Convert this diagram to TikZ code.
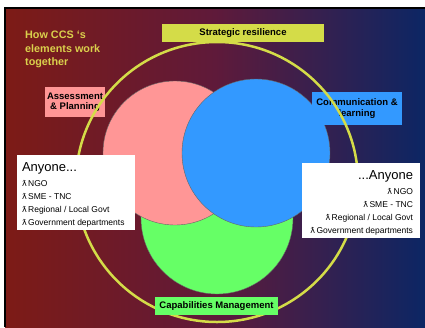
\documentclass[tikz,border=0pt]{standalone}
\usepackage{fontspec}
\setmainfont{Liberation Sans}
\newfontfamily\symfont{DejaVu Sans}
\usetikzlibrary{positioning}

\definecolor{bgred}{RGB}{125,27,22}
\definecolor{bgmid}{RGB}{95,26,58}
\definecolor{bgblue}{RGB}{12,38,100}
\definecolor{asspink}{RGB}{255,150,150}
\definecolor{comblue}{RGB}{51,153,255}
\definecolor{capgreen}{RGB}{102,255,102}
\definecolor{ringyellow}{RGB}{212,220,72}
\definecolor{titleyellow}{RGB}{218,208,76}

\newcommand{\itm}{{\symfont\fontsize{8}{8}\selectfont ƛ}\,}

\begin{document}
\begin{tikzpicture}[x=1pt,y=-1pt,
  disc/.style={circle,draw=black!60,thin,inner sep=0pt},
  tag/.style={font=\bfseries\fontsize{9.5}{10.5}\selectfont,align=center,inner sep=2pt},
  who/.style={fill=white,inner sep=0pt,minimum width=118pt,minimum height=75pt},
  list/.style={font=\fontsize{8.5}{13}\selectfont,inner sep=0pt}]
\useasboundingbox (0,0) rectangle (425,327);
\shade[left color=bgred,right color=bgblue,middle color=bgmid] (5,8) rectangle (425,327);
\draw[line width=1.5pt] (5,327) -- (5,8) -- (425,8);
% the three elements
\node[disc,fill=capgreen,minimum size=152pt] (capc) at (217,218) {};
\node[disc,fill=asspink,minimum size=144pt] (assc) at (175,153) {};
\node[disc,fill=comblue,minimum size=148pt] (comc) at (256,153) {};
\node[tag,fill=asspink,minimum width=60pt,minimum height=30pt] (assess) at (75,102) {Assessment\\\& Planning};
\node[tag,fill=comblue,minimum width=90pt,minimum height=33pt] (comm) at (357,108.5) {Communication \&\\learning};
% resilience ring
\draw[ringyellow,line width=2.5pt] (217,182) circle [x radius=141,y radius=140];
\node[tag,fill=ringyellow,minimum width=162pt,minimum height=18pt] (strat) at (243,33) {Strategic resilience};
\node[tag,fill=capgreen,minimum width=123pt,minimum height=18pt] (capab) at (216.5,306) {Capabilities Management};
% who takes part
\node[who] (anyl) at (76,192.5) {};
\node[who] (anyr) at (361,200.5) {};
\node[list,align=left,below right=8pt and 5pt of anyl.north west] (anyltxt) {{\fontsize{13}{14}\selectfont Anyone...}\\[1.5pt]
  \itm NGO\\ \itm SME - TNC\\ \itm Regional / Local Govt\\ \itm Government departments};
\node[list,align=right,below left=8pt and 7pt of anyr.north east] (anyrtxt) {{\fontsize{13}{14}\selectfont ...Anyone}\\[1.5pt]
  \itm NGO\\ \itm SME - TNC\\ \itm Regional / Local Govt\\ \itm Government departments};
\node[anchor=north west,align=left,text=titleyellow,font=\bfseries\fontsize{10.8}{13.5}\selectfont,inner sep=0pt] (title) at (25,31) {How CCS ‘s\\elements work\\together};
\end{tikzpicture}
\end{document}
